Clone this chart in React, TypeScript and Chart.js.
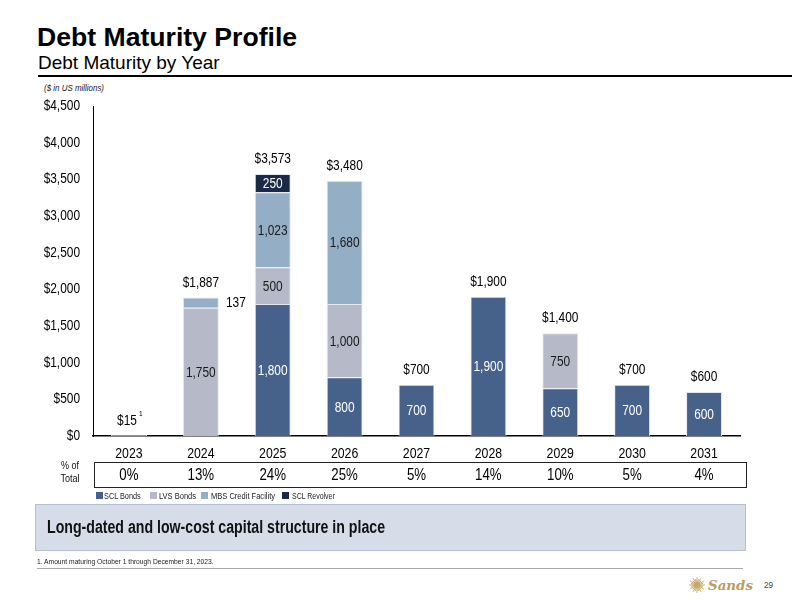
import React, { useEffect, useRef } from "react";
import { Chart, registerables } from "chart.js";

Chart.register(...registerables);

const years = ["2023", "2024", "2025", "2026", "2027", "2028", "2029", "2030", "2031"];
const sclBonds = [0, 0, 1800, 800, 700, 1900, 650, 700, 600];
const lvsBonds = [15, 1750, 500, 1000, 0, 0, 750, 0, 0];
const mbsCreditFacility = [0, 137, 1023, 1680, 0, 0, 0, 0, 0];
const sclRevolver = [0, 0, 250, 0, 0, 0, 0, 0, 0];
const pctOfTotal = ["0%", "13%", "24%", "25%", "5%", "14%", "10%", "5%", "4%"];
const seriesNames = ["SCL Bonds", "LVS Bonds", "MBS Credit Facility", "SCL Revolver"];
const seriesColors = ["#46618A", "#B6B9C8", "#94AEC6", "#1B2847"];
const yMax = 4500;
const yStep = 500;

const SANS = "'Liberation Sans', Arial, sans-serif";
const SX = 0.82;

const fmt = (v: number) => v.toLocaleString("en-US");

function ctext(ctx: any, t: string, x: number, y: number, size: number, align: string, color: string, sx = SX) {
  ctx.save();
  ctx.font = `${size}px ${SANS}`;
  ctx.fillStyle = color;
  ctx.translate(x, y);
  ctx.scale(sx, 1);
  ctx.textAlign = align;
  ctx.textBaseline = "middle";
  ctx.fillText(t, 0, 0);
  ctx.restore();
}

const labelPlugin = {
  id: "slideLabels",
  afterDatasetsDraw(chart: any) {
    const ctx = chart.ctx;
    const yScale = chart.scales.y;
    const xScale = chart.scales.x;
    const area = chart.chartArea;
    // y ticks
    yScale.ticks.forEach((t: any) => {
      ctext(ctx, "$" + fmt(t.value), yScale.right - 13, yScale.getPixelForValue(t.value), 14.5, "right", "#000");
    });
    // x ticks
    years.forEach((yr, i) => {
      ctext(ctx, yr, xScale.getPixelForValue(i), area.bottom + 18, 15, "center", "#000");
    });
    // segment labels
    chart.data.datasets.forEach((ds: any, di: number) => {
      const meta = chart.getDatasetMeta(di);
      meta.data.forEach((el: any, i: number) => {
        const v = ds.data[i];
        if (!v || v < 100) return;
        const p = el.getProps(["x", "y", "base"], true);
        const dark = di === 0 || di === 3;
        if (v < 200 && di === 2) {
          ctext(ctx, fmt(v), p.x + 35, (p.y + p.base) / 2, 14.5, "center", "#000");
        } else {
          ctext(ctx, fmt(v), p.x, (p.y + p.base) / 2 + 1, 14.5, "center", dark ? "#FFFFFF" : "#1A1A1A");
        }
      });
    });
    // totals
    years.forEach((_, i) => {
      const total = sclBonds[i] + lvsBonds[i] + mbsCreditFacility[i] + sclRevolver[i];
      const x = xScale.getPixelForValue(i);
      const y = yScale.getPixelForValue(total) - 15;
      if (total < 100) {
        ctext(ctx, "$" + fmt(total), x - 2, y + 1, 14.5, "center", "#000");
        ctext(ctx, "1", x + 10, y - 6, 8, "left", "#000");
      } else {
        ctext(ctx, "$" + fmt(total), x, y, 14.5, "center", "#000");
      }
    });
    // % of total row
    const boxTop = 366;
    const boxBottom = 391;
    const boxLeft = yScale.right + 1;
    const boxRight = 716;
    ctx.save();
    ctx.strokeStyle = "#222";
    ctx.lineWidth = 1;
    ctx.strokeRect(boxLeft + 0.5, boxTop + 0.5, boxRight - boxLeft, boxBottom - boxTop);
    ctx.restore();
    pctOfTotal.forEach((t, i) => {
      ctext(ctx, t, xScale.getPixelForValue(i), (boxTop + boxBottom) / 2 + 1, 17, "center", "#000", 0.78);
    });
    ctext(ctx, "% of", 40, boxTop + 4, 11, "center", "#111");
    ctext(ctx, "Total", 40, boxTop + 17, 11, "center", "#111");
  },
};

function ChartBox() {
  const ref = useRef<HTMLCanvasElement | null>(null);
  useEffect(() => {
    if (!ref.current) return;
    const data = [sclBonds, lvsBonds, mbsCreditFacility, sclRevolver];
    const chart = new Chart(ref.current, {
      type: "bar",
      data: {
        labels: years,
        datasets: data.map((d, i) => ({
          label: seriesNames[i],
          data: d,
          backgroundColor: seriesColors[i],
          borderColor: "rgba(225,230,238,0.9)",
          borderWidth: 1,
          categoryPercentage: 1,
          barPercentage: 0.5,
          stack: "s",
        })),
      },
      options: {
        responsive: false,
        animation: false,
        devicePixelRatio: 1,
        layout: { padding: { top: 10, right: 20, left: 0, bottom: 0 } },
        plugins: {
          legend: { display: false },
          tooltip: { enabled: false },
        },
        scales: {
          x: {
            stacked: true,
            grid: { display: false, drawTicks: false },
            border: { display: true, color: "#000", width: 1.5 },
            ticks: { display: false },
            afterFit: (s: any) => {
              s.height = 64;
            },
          },
          y: {
            stacked: true,
            min: 0,
            max: yMax,
            grid: { display: false, drawTicks: false },
            border: { display: true, color: "#000", width: 1 },
            ticks: { display: false, stepSize: yStep },
            afterFit: (s: any) => {
              s.width = 63;
            },
          },
        },
      },
      plugins: [labelPlugin],
    });
    return () => chart.destroy();
  }, []);
  return (
    <canvas
      ref={ref}
      width={730}
      height={404}
      style={{ position: "absolute", left: 30, top: 96, width: 730, height: 404 }}
    />
  );
}

let measureCtx: any = null;
function measureText(text: string, font: string) {
  if (!measureCtx) measureCtx = document.createElement("canvas").getContext("2d");
  measureCtx.font = font;
  return measureCtx.measureText(text).width;
}

function FitText(props: {
  text: string;
  left: number;
  top: number;
  size: number;
  width: number;
  weight?: string;
  italic?: boolean;
  color?: string;
  family?: string;
}) {
  const family = props.family || SANS;
  const weight = props.weight || "normal";
  const style = props.italic ? "italic" : "normal";
  const w = measureText(props.text, `${style} ${weight} ${props.size}px ${family}`) || props.width;
  const k = props.width / w;
  return (
    <div
      style={{
        position: "absolute",
        left: props.left,
        top: props.top,
        fontSize: props.size,
        fontWeight: weight as any,
        fontStyle: style,
        fontFamily: family,
        color: props.color || "#000",
        whiteSpace: "nowrap",
        lineHeight: 1,
        transform: `scaleX(${k})`,
        transformOrigin: "left top",
      }}
    >
      {props.text}
    </div>
  );
}

function SunLogo() {
  const rays = [];
  const n = 24;
  for (let i = 0; i < n; i++) {
    const a = (i * Math.PI * 2) / n;
    const r2 = i % 2 ? 6 : 7.8;
    rays.push(
      <line
        key={i}
        x1={8 + Math.cos(a) * 3}
        y1={8 + Math.sin(a) * 3}
        x2={8 + Math.cos(a) * r2}
        y2={8 + Math.sin(a) * r2}
        stroke="#C9A86A"
        strokeWidth={1}
      />
    );
  }
  return (
    <svg width={16} height={16} style={{ position: "absolute", left: 689, top: 577 }}>
      {rays}
      <circle cx={8} cy={8} r={3.2} fill="#C9A86A" />
    </svg>
  );
}

export default function App() {
  const legendSq = [96, 150, 201, 282];
  const legendTx = [104, 159, 211, 292];
  const legendW = [37, 37, 64, 43];
  return (
    <div
      style={{
        position: "fixed",
        left: 0,
        top: 0,
        width: 792,
        height: 612,
        background: "#fff",
        fontFamily: SANS,
        overflow: "hidden",
      }}
    >
      <div style={{ position: "absolute", left: 37, top: 22, fontSize: 26.6, fontWeight: "bold", color: "#000", lineHeight: "30px", whiteSpace: "nowrap" }}>
        Debt Maturity Profile
      </div>
      <div style={{ position: "absolute", left: 38, top: 52, fontSize: 19, color: "#000", lineHeight: "22px", whiteSpace: "nowrap" }}>
        Debt Maturity by Year
      </div>
      <div style={{ position: "absolute", left: 38, top: 75, width: 754, height: 2, background: "#000" }} />
      <FitText text="($ in US millions)" left={44} top={84} size={9} width={60} italic color="#222" />
      <ChartBox />
      {seriesNames.map((n, i) => (
        <React.Fragment key={n}>
          <div style={{ position: "absolute", left: legendSq[i], top: 492, width: 7, height: 7, background: seriesColors[i] }} />
          <FitText text={n} left={legendTx[i]} top={491} size={9.5} width={legendW[i]} color="#222" />
        </React.Fragment>
      ))}
      <div
        style={{
          position: "absolute",
          left: 35,
          top: 504,
          width: 711,
          height: 47,
          background: "#D6DCE8",
          border: "1px solid #B5BFD1",
          boxSizing: "border-box",
        }}
      />
      <FitText text="Long-dated and low-cost capital structure in place" left={47} top={519} size={17.5} width={338} weight="bold" color="#111" />
      <FitText text="1. Amount maturing October 1 through December 31, 2023." left={37} top={558} size={7.5} width={177} color="#222" />
      <div style={{ position: "absolute", left: 37, top: 568, width: 706, height: 1, background: "#AAAAAA" }} />
      <SunLogo />
      <FitText text="Sands" left={708} top={579} size={13} width={45} italic weight="bold" family="'DejaVu Serif', serif" color="#BE9A5C" />
      <FitText text="29" left={764} top={581} size={9} width={9} color="#444" />
    </div>
  );
}
